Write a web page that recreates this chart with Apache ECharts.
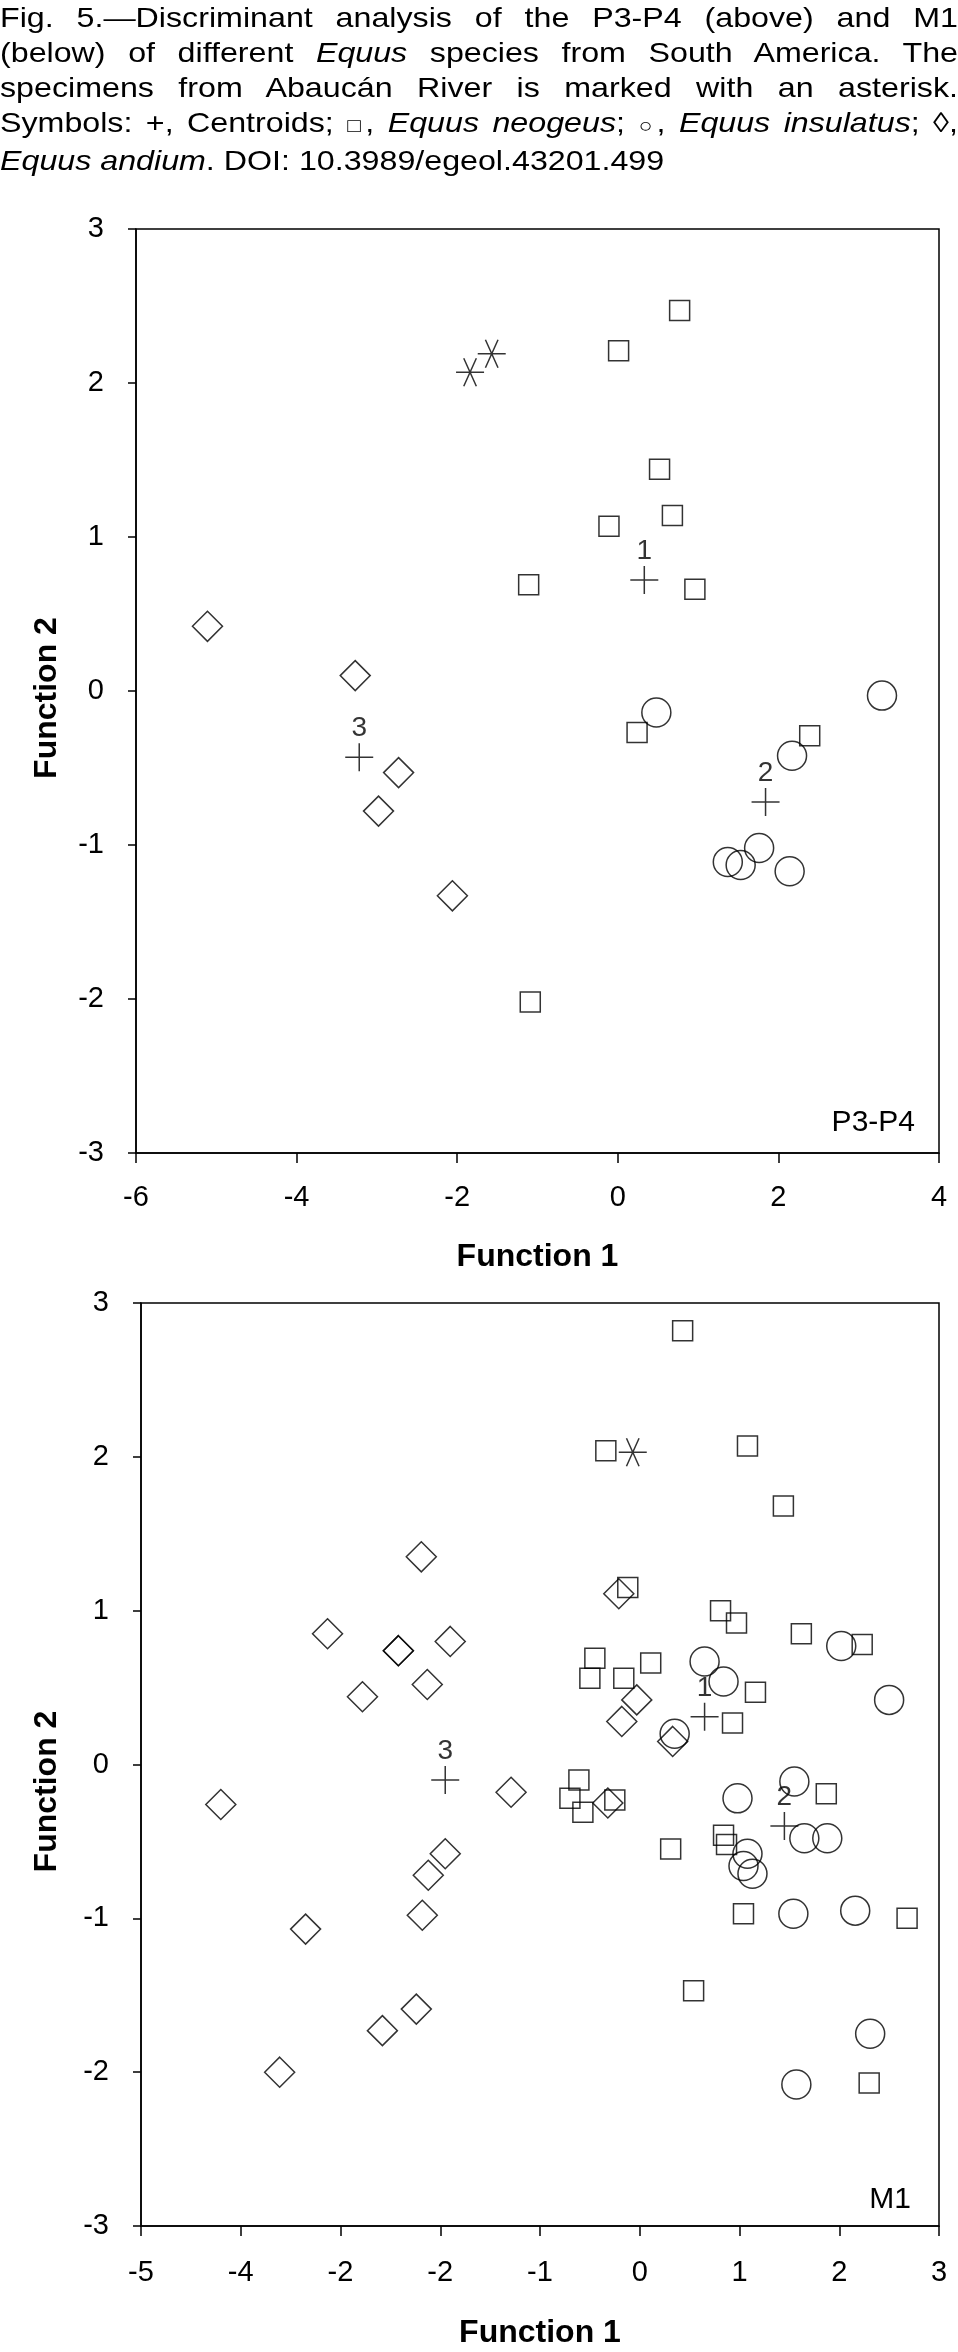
<!DOCTYPE html>
<html>
<head>
<meta charset="utf-8">
<script src="https://cdn.jsdelivr.net/npm/echarts@6/dist/echarts.min.js"></script>
<style>
  html, body { margin: 0; padding: 0; background: #fff; }
  #chart { position: absolute; left: 0; top: 0; width: 958px; height: 2352px; }
  #caption {
    position: absolute; left: 0; top: 0; width: 833px;
    transform: scaleX(1.15); transform-origin: 0 0;
    font-family: "Liberation Sans", Arial, sans-serif; font-size: 28px; line-height: 35px;
    color: #000; z-index: 2;
  }
  #caption div { text-align: justify; text-align-last: justify; }
  #caption div.last { text-align: left; text-align-last: left; }
  #caption .sm { font-size: 0.7em; }
</style>
</head>
<body>
<div id="chart"></div>
<div id="caption">
  <div>Fig. 5.—Discriminant analysis of the P3-P4 (above) and M1</div>
  <div>(below) of different <i>Equus</i> species from South America. The</div>
  <div>specimens from Abaucán River is marked with an asterisk.</div>
  <div>Symbols: +, Centroids; <span class="sm">□</span>, <i>Equus neogeus</i>; <span class="sm">○</span>, <i>Equus insulatus</i>; ◊,</div>
  <div class="last"><i>Equus andium</i>. DOI: 10.3989/egeol.43201.499</div>
</div>
<script>
// P3-P4 (above)
var p34Neogeus = [[0.77,2.47],[0.01,2.21],[0.52,1.44],[0.68,1.14],[-0.11,1.07],[-1.11,0.69],
  [0.96,0.66],[0.24,-0.27],[2.39,-0.29],[-1.09,-2.02]];
var p34Insulatus = [[3.29,-0.03],[0.48,-0.14],[2.17,-0.42],[1.76,-1.02],[1.37,-1.11],[1.53,-1.13],[2.14,-1.17]];
var p34Andium = [[-5.11,0.42],[-3.27,0.10],[-2.73,-0.53],[-2.98,-0.78],[-2.06,-1.33]];
var p34Abaucan = [[-1.84,2.07],[-1.57,2.19]];
var p34Centroids = [[0.33,0.72,'1'],[1.84,-0.72,'2'],[-3.22,-0.43,'3']];
var p34XTicks = ['-6','-4','-2','0','2','4'];

// M1 (below)
var m1Neogeus = [[0.43,2.82],[-0.34,2.04],[1.08,2.07],[1.44,1.68],[-0.12,1.15],[0.81,1.00],[0.97,0.92],
  [1.62,0.85],[2.23,0.78],[-0.45,0.69],[0.11,0.66],[-0.50,0.56],[-0.16,0.56],[1.16,0.47],[0.93,0.27],
  [-0.61,-0.10],[-0.70,-0.22],[-0.57,-0.31],[-0.25,-0.23],[1.87,-0.19],[0.31,-0.55],[0.84,-0.46],
  [0.87,-0.52],[1.04,-0.97],[2.68,-1.00],[0.54,-1.47],[2.30,-2.07]];
var m1Insulatus = [[2.02,0.77],[0.65,0.67],[0.84,0.54],[2.50,0.42],[0.35,0.20],[0.98,-0.22],[1.55,-0.11],
  [1.65,-0.48],[1.88,-0.48],[1.08,-0.58],[1.04,-0.66],[1.13,-0.71],[1.54,-0.97],[2.16,-0.95],
  [2.31,-1.75],[1.57,-2.08]];
var m1Andium = [[-2.19,1.35],[-0.21,1.11],[-3.13,0.85],[-2.42,0.74],[-2.42,0.74],[-1.90,0.80],
  [-2.78,0.44],[-2.13,0.52],[-0.03,0.42],[-0.18,0.28],[0.33,0.15],[-1.29,-0.18],[-0.32,-0.25],
  [-1.95,-0.58],[-2.12,-0.72],[-2.18,-0.98],[-3.35,-1.07],[-4.20,-0.26],[-2.24,-1.59],
  [-2.58,-1.73],[-3.61,-2.00]];
var m1Abaucan = [[-0.07,2.03]];
var m1Centroids = [[0.65,0.31,'1'],[1.45,-0.40,'2'],[-1.95,-0.10,'3']];
// tick labels as printed in the figure
var m1XTicks = ['-5','-4','-2','-2','-1','0','1','2','3'];

var FONT = '"Liberation Sans", Arial, sans-serif';
var CROSS = 'path://M0,-1L0,1M-1,0L1,0';
var STAR = 'path://M-1,0L1,0M-0.45,-1L0.45,1M0.45,-1L-0.45,1';

function markers(data, symbol, size, gi) {
  return {
    type: 'scatter', xAxisIndex: gi, yAxisIndex: gi, data: data,
    symbol: symbol, symbolSize: size, silent: true,
    itemStyle: { color: 'transparent', borderColor: '#000', borderWidth: 1.5 }
  };
}
function centroids(data, gi) {
  var s = markers(data.map(function (d) { return { value: [d[0], d[1]], name: d[2] }; }), CROSS, 28, gi);
  s.label = { show: true, position: 'top', distance: 0, formatter: '{b}',
    color: '#000', fontSize: 28, fontFamily: FONT };
  return s;
}
function xAxis(gi, min, max, step, ticks, gap, margin) {
  return {
    gridIndex: gi, type: 'value', min: min, max: max, interval: step,
    name: 'Function 1', nameLocation: 'middle', nameGap: gap,
    nameTextStyle: { fontSize: 32, fontWeight: 'bold', color: '#000', fontFamily: FONT },
    axisLine: { show: true, onZero: false, lineStyle: { color: '#000', width: 1.5 } },
    axisTick: { show: true, length: 10, lineStyle: { color: '#000', width: 1.5 } },
    splitLine: { show: false },
    axisLabel: { fontSize: 29, color: '#000', fontFamily: FONT, margin: margin,
      formatter: function (v) { return ticks[Math.round((v - min) / step)]; } }
  };
}
function yAxis(gi, gap, pad) {
  return {
    gridIndex: gi, type: 'value', min: -3, max: 3, interval: 1,
    name: 'Function 2', nameLocation: 'middle', nameGap: gap, nameRotate: 90,
    nameTextStyle: { fontSize: 32, fontWeight: 'bold', color: '#000', fontFamily: FONT, padding: pad },
    axisLine: { show: true, onZero: false, lineStyle: { color: '#000', width: 1.5 } },
    axisTick: { show: true, length: 8, lineStyle: { color: '#000', width: 1.5 } },
    splitLine: { show: false },
    axisLabel: { fontSize: 29, color: '#000', fontFamily: FONT, margin: 32 }
  };
}

var ec = echarts.init(document.getElementById('chart'), null, { renderer: 'canvas' });
var option = {
  animation: false,
  backgroundColor: '#fff',
  grid: [
    { left: 136, right: 19, top: 229, height: 924, show: true, borderColor: '#000', borderWidth: 1.5, outerBoundsMode: 'none' },
    { left: 141, right: 19, top: 1303, height: 923, show: true, borderColor: '#000', borderWidth: 1.5, outerBoundsMode: 'none' }
  ],
  xAxis: [
    xAxis(0, -6, 4, 2, p34XTicks, 88, 30),
    xAxis(1, -5, 3, 1, m1XTicks, 91, 32)
  ],
  yAxis: [
    yAxis(0, 73, [0, 14, 0, 0]),
    yAxis(1, 78, [0, 54, 0, 0])
  ],
  graphic: [
    { type: 'text', right: 43, top: 1108, style: { text: 'P3-P4', fontSize: 30, fontFamily: FONT, fill: '#000' } },
    { type: 'text', right: 47, top: 2185, style: { text: 'M1', fontSize: 30, fontFamily: FONT, fill: '#000' } }
  ],
  series: [
    markers(p34Neogeus, 'rect', 20, 0),
    markers(p34Insulatus, 'circle', 29, 0),
    markers(p34Andium, 'diamond', 30, 0),
    markers(p34Abaucan, STAR, 28, 0),
    centroids(p34Centroids, 0),
    markers(m1Neogeus, 'rect', 20, 1),
    markers(m1Insulatus, 'circle', 29, 1),
    markers(m1Andium, 'diamond', 30, 1),
    markers(m1Abaucan, STAR, 28, 1),
    centroids(m1Centroids, 1)
  ]
};
ec.setOption(option);
</script>
</body>
</html>
